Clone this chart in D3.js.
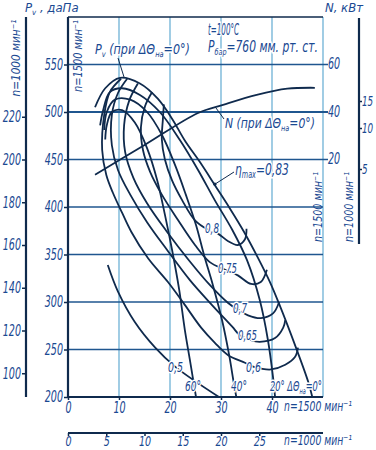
<!DOCTYPE html>
<html><head><meta charset="utf-8">
<script src="https://cdn.jsdelivr.net/npm/d3@7"></script>
<style>
body{margin:0;background:#fff}
svg text{font-family:"DejaVu Sans Condensed","Liberation Sans",sans-serif;font-style:italic;fill:#1a4992}
</style></head><body>
<svg id="c" width="376" height="450"></svg>
<script>
// ---- data ----
const pvTicks1500 = [200,250,300,350,400,450,500,550];
const pvTicks1000 = [100,120,140,160,180,200,220];
const nTicks1500 = [20,40,60];
const nTicks1000 = [5,10,15];
const nTicks1000Pos = [169,128,101]; // as printed on the reference's outer scale
const qTicks1500 = [0,10,20,30,40];
const qTicks1000 = [0,5,10,15,20,25];
// Pv curves [Q (thous. m3/h, n=1500), Pv daPa]
const curve0  = [[5.3,505],[7.3,525],[10.2,536],[14.1,530],[17.6,514],[20.4,493],[22.9,470],[25.9,447],[28.8,423],[31.8,398],[34.5,374],[37.3,346],[39.6,321],[41.4,298],[44.7,252],[47.1,216],[47.9,200]];
const curve20 = [[6.3,486],[6.9,502],[8.2,521],[10.6,525],[14.1,518],[18,500],[22,470],[25.5,439],[28.8,407],[32.2,376],[35.1,344],[37.6,302],[39.2,260],[40.2,221],[40.6,200]];
const curve40 = [[7.1,481],[7.6,500],[9.2,513],[12.2,513],[15.5,500],[18.4,476],[21,444],[23.1,413],[25.1,381],[26.7,349],[28.4,318],[30.2,281],[31.6,244],[32.5,215],[33,200]];
const curve60 = [[7.3,471],[7.6,486],[8.6,500],[10.6,502],[13.1,489],[15.5,462],[17.5,428],[19,392],[20.4,355],[21.8,313],[22.9,271],[23.9,239],[24.7,213],[25.1,200]];
const curveN  = [[5.3,13.6],[15.1,26.2],[25.5,39.6],[30.4,43],[37,47.2],[43,49.8],[48.4,50.2]];
const eta50 = [[7.8,339],[9.8,311],[13.1,279],[17.1,252],[21,232],[29.6,200]];
const eta60 = [[10.4,535],[8.2,521],[7.1,497],[6.7,460],[7.5,434],[8.8,415],[10.6,394],[12.4,374],[15.7,346],[19.6,321],[22.9,297],[26.1,273],[28.8,257],[31.4,244],[34.7,236],[36.3,232],[37.8,230],[39.8,229],[42.6,234],[44.5,242],[45.1,252]];
const eta65 = [[11.6,535],[9.8,520],[8.6,497],[8.6,465],[9.8,439],[12.2,413],[15.5,384],[19.4,355],[23.9,323],[28.2,297],[32.2,274],[33.7,265],[35.7,260],[37.6,258],[40.6,262],[42.2,273],[42.6,281]];
const eta70 = [[13.7,530],[12,512],[11,486],[11.2,458],[12.8,431],[15.5,404],[19.4,374],[23.7,344],[27.8,318],[31.4,299],[33.3,292],[35.3,286],[37.8,283],[40.2,288],[41.4,300]];
const eta75 = [[16.5,521],[15.1,506],[14.3,484],[14.7,460],[16.1,437],[18.4,413],[21.6,386],[24.9,360],[27.8,342],[30.8,334],[33.3,328],[35.9,319],[37.8,321],[39,334]];
const eta80 = [[18.8,508],[18.6,492],[18.4,471],[19,450],[20.4,428],[22.4,407],[24.9,386],[27.5,376],[29.4,372],[31.4,364],[33.3,360],[34.7,366],[35,377]];
const etaMaxPt = [28.8,424];

const svg=d3.select("#c");
const x=d3.scaleLinear().domain([0,50]).range([68,323]);
const y=d3.scaleLinear().domain([200,600]).range([397,17]);
const yN=d3.scaleLinear().domain([0,60]).range([y(400),y(550)]);
const y1000=d3.scaleLinear().domain([0,600/2.25]).range([y(0),y(600)]);
const yN1000=d3.scaleLinear().domain(nTicks1000).range(nTicks1000Pos);
const x1000=d3.scaleLinear().domain([0,50*2/3]).range([68,323]);
const dark="#0f2a4d", grid="#1f568f", vgrid="#62abd2", txt="#1a4992";
const DW=6.1; // digit width
// condense a text horizontally to a target width (keeps bounding box exact)
function fixNum(sel,fs,dw){sel.attr("font-size",fs||15).attr("fill",txt)
  .each(function(){const t=this.textContent;const nat=this.getComputedTextLength();const k=Math.min(1,t.length*(dw||DW)/nat);
    const x0=+(this.getAttribute("x")||0);this.setAttribute("x",x0/k);
    const prev=this.getAttribute("transform")||"";this.setAttribute("transform",prev+` scale(${k},1)`);});}

// vertical grid
svg.append("g").selectAll("line").data([10,20,30,40,50]).join("line")
 .attr("x1",d=>x(d)).attr("x2",d=>x(d)).attr("y1",y(600)).attr("y2",y(200))
 .attr("stroke",vgrid).attr("stroke-width",1.2);
// horizontal grid
svg.append("g").selectAll("line").data([250,300,350,400,450,500,550,600]).join("line")
 .attr("x1",x(0)).attr("x2",d=>(d>=450&&d<=550)?x(50)+5:x(50)).attr("y1",d=>y(d)).attr("y2",d=>y(d))
 .attr("stroke",d=>d===600?dark:grid).attr("stroke-width",d=>d===500?2:1.4);

// left inner axis
const gL=svg.append("g").attr("transform",`translate(${x(0)},0)`)
 .call(d3.axisLeft(y).tickValues(pvTicks1500).tickSize(4).tickPadding(1));
// left outer axis
const gL2=svg.append("g").attr("transform",`translate(26,0)`)
 .call(d3.axisLeft(y1000).tickValues(pvTicks1000).tickSize(4).tickPadding(1));
[gL,gL2].forEach(g=>{g.select(".domain").attr("stroke",dark).attr("stroke-width",2.2).attr("d",`M0,${y(600)}V${y(200)}`);
 g.selectAll(".tick line").attr("stroke",dark).attr("stroke-width",1.5);
 fixNum(g.selectAll("text"));});

// bottom axes
const gB=svg.append("g").attr("transform",`translate(0,${y(200)})`)
 .call(d3.axisBottom(x).tickValues(qTicks1500).tickSize(3).tickPadding(2));
const gB2=svg.append("g").attr("transform",`translate(0,433)`)
 .call(d3.axisBottom(x1000).tickValues(qTicks1000).tickSize(3).tickPadding(0));
[gB,gB2].forEach(g=>{g.select(".domain").attr("stroke",dark).attr("stroke-width",2).attr("d",`M${x(0)},0H${x(50)}`);
 g.selectAll(".tick line").attr("stroke",dark).attr("stroke-width",1.5);});
fixNum(gB.selectAll("text"));
fixNum(gB2.selectAll("text"),14);

// right N axis (1500) labels
fixNum(svg.append("g").selectAll("text").data(nTicks1500).join("text")
 .attr("x",x(50)+5).attr("y",d=>yN(d)+5).text(d=>d));
// right outer N axis (1000)
const gR=svg.append("g").attr("transform",`translate(359,0)`)
 .call(d3.axisRight(yN1000).tickValues(nTicks1000).tickSize(3).tickPadding(0));
gR.select(".domain").attr("d",`M0,18V244`).attr("stroke",dark).attr("stroke-width",2.2);
gR.selectAll(".tick line").attr("stroke",dark).attr("stroke-width",1.5);
fixNum(gR.selectAll("text"),14,5.6);

// curves
const line=d3.line().x(d=>x(d[0])).y(d=>y(d[1])).curve(d3.curveCatmullRom.alpha(0.5));
const lineN=d3.line().x(d=>x(d[0])).y(d=>yN(d[1])).curve(d3.curveCatmullRom.alpha(0.5));
const cg=svg.append("g").attr("fill","none").attr("stroke",dark).attr("stroke-width",1.8);
[curve0,curve20,curve40,curve60,eta50,eta60,eta65,eta70,eta75,eta80].forEach(c=>cg.append("path").attr("d",line(c)));
cg.append("path").attr("d",lineN(curveN));
svg.append("circle").attr("cx",x(etaMaxPt[0])).attr("cy",y(etaMaxPt[1])).attr("r",1.6).attr("fill",dark);

// rich text helper: parts = [[text, 'n'|'sub'], ...], condensed to width len
function rich(parts,xx,yy,fs,len,halo,rotate){
 const e=svg.append("text").attr("font-size",fs).attr("x",0).attr("y",0);
 if(rotate) e.attr("text-anchor","middle");
 if(halo) e.attr("stroke","#fff").attr("stroke-width",3).attr("paint-order","stroke");
 let shift=0;
 parts.forEach(([t,k])=>{const s=e.append("tspan").text(t);
   const target=k==="sub"?3:0;
   if(target!==shift){s.attr("dy",target-shift);shift=target;}
   if(k!=="n") s.attr("font-size",fs*0.6);});
 const nat=e.node().getComputedTextLength();
 const k=len?Math.min(1,len/nat):1;
 e.attr("transform",`translate(${xx},${yy})${rotate?" rotate(-90)":""} scale(${k},1)`);
 return e;}

rich([["0,5","n"]],168,372,14,15,true);
rich([["0,6","n"]],246,372,14,15,true);
rich([["0,65","n"]],238,340,14,19,true);
rich([["0,7","n"]],233,313,14,14,true);
rich([["0,75","n"]],218,273,14,19,true);
rich([["0,8","n"]],205,233,14,14,true);
rich([["60°","n"]],185,391,14,16,true);
rich([["40°","n"]],231,391,14,16,true);
rich([["20°","n"],[" ΔΘ","n"],["на","sub"],["=0°","n"]],270,391,14,52,true);

// eta max label
svg.append("line").attr("x1",x(etaMaxPt[0])).attr("y1",y(etaMaxPt[1])).attr("x2",234).attr("y2",172).attr("stroke",dark).attr("stroke-width",1);
rich([["η","n"],["max","sub"],["=0,83","n"]],235,175,16,54,true);

// N label
svg.append("line").attr("x1",216).attr("y1",108).attr("x2",224).attr("y2",119).attr("stroke",dark).attr("stroke-width",1);
rich([["N  (при ΔΘ","n"],["на","sub"],["=0°)","n"]],225,128,14,90,true);
// Pv label
svg.append("line").attr("x1",118).attr("y1",58).attr("x2",124).attr("y2",77).attr("stroke",dark).attr("stroke-width",1);
rich([["P","n"],["v","sub"],[" (при ΔΘ","n"],["на","sub"],["=0°)","n"]],95,54,14,95,true);
// conditions
rich([["t=100°C","n"]],208,35,15,31,true);
rich([["P","n"],["бар","sub"],["=760 мм. рт. ст.","n"]],208,52,15,110,true);

// axis titles
rich([["P","n"],["v","sub"],[" ,  даПа","n"]],25,12,13,57);
rich([["N,  кВт","n"]],325,12,13,38);
rich([["n=1000 мин⁻¹","n"]],20,58,13,77,false,true);
rich([["n=1500 мин⁻¹","n"]],82,56,13,72,false,true);
rich([["n=1500 мин⁻¹","n"]],322,207,13,70,false,true);
rich([["n=1000 мин⁻¹","n"]],353,207,13,70,false,true);
rich([["n=1500 мин⁻¹","n"]],284,411,14,68);
rich([["n=1000 мин⁻¹","n"]],284,445,14,68);
</script></body></html>
